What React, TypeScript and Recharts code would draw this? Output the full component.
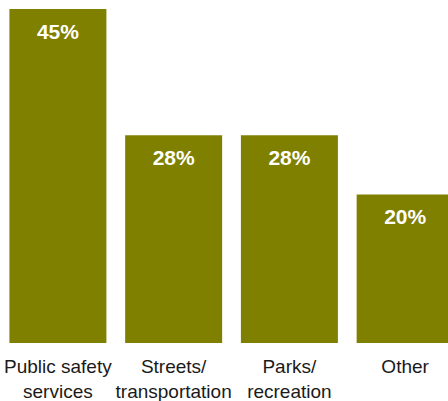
// Share of respondents by service area — olive bars with white percent labels inside the top.

import { Bar, BarChart, LabelList, XAxis, YAxis } from 'recharts'

const categories = ['Public safety services', 'Streets/ transportation', 'Parks/ recreation', 'Other']
const tickLines = [['Public safety', 'services'], ['Streets/', 'transportation'], ['Parks/', 'recreation'], ['Other']]
const values = [45, 28, 28, 20]

const OLIVE = '#808000'
const FONT = '"Liberation Sans", Arial, sans-serif'

const data = categories.map((name, i) => ({ name, value: values[i] }))

function CategoryTick({ x, y, index }: any) {
  const lines = tickLines[index] ?? []
  return (
    <text x={x} y={y} textAnchor="middle" fill="#1a1a1a" fontFamily={FONT} fontSize={19}>
      {lines.map((ln, i) => (
        <tspan key={i} x={x} dy={i === 0 ? 30 : 25}>
          {ln}
        </tspan>
      ))}
    </text>
  )
}

export default function App() {
  return (
    <div style={{ position: 'fixed', left: 0, top: 0, width: 448, height: 401, overflow: 'hidden', background: '#fff' }}>
      <BarChart
        width={463}
        height={401}
        data={data}
        margin={{ top: 9, right: 0, bottom: 0, left: 0 }}
        barCategoryGap={9.4}
      >
        <XAxis
          dataKey="name"
          axisLine={false}
          tickLine={false}
          tickSize={0}
          tickMargin={0}
          height={58}
          interval={0}
          tick={<CategoryTick />}
        />
        <YAxis hide domain={[0, 45]} />
        <Bar dataKey="value" fill={OLIVE} isAnimationActive={false}>
          <LabelList
            dataKey="value"
            position="insideTop"
            offset={15}
            formatter={(v: any) => `${v}%`}
            fill="#ffffff"
            fontFamily={FONT}
            fontSize={21}
            fontWeight="bold"
          />
        </Bar>
      </BarChart>
    </div>
  )
}
